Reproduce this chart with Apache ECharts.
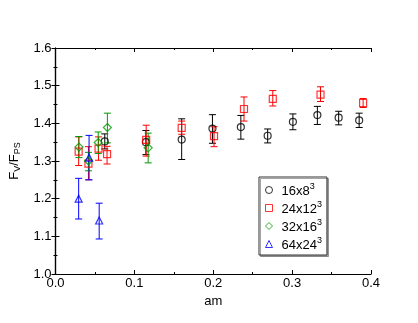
<!DOCTYPE html>
<html>
<head>
<meta charset="utf-8">
<script src="https://cdn.jsdelivr.net/npm/echarts@6/dist/echarts.min.js"></script>
<style>
    html, body { margin: 0; padding: 0; background: #ffffff; }
    #chart { width: 418px; height: 323px; }
</style>
</head>
<body>
<div id="chart"></div>
<script>
    // 16x8^3
    const x16 = [0.0625, 0.1146, 0.160, 0.199, 0.235, 0.269, 0.301, 0.332, 0.359, 0.385]
    const y16 = [1.352, 1.350, 1.357, 1.386, 1.390, 1.367, 1.404, 1.422, 1.415, 1.408]
    const lo16 = [1.332, 1.317, 1.304, 1.347, 1.358, 1.348, 1.383, 1.397, 1.396, 1.389]
    const hi16 = [1.372, 1.381, 1.412, 1.423, 1.421, 1.385, 1.425, 1.445, 1.432, 1.427]
    // 24x12^3
    const x24 = [0.0294, 0.0418, 0.0546, 0.0654, 0.115, 0.160, 0.201, 0.239, 0.2755, 0.336, 0.390]
    const y24 = [1.325, 1.293, 1.333, 1.318, 1.356, 1.388, 1.366, 1.438, 1.465, 1.476, 1.454]
    const lo24 = [1.288, 1.250, 1.302, 1.292, 1.313, 1.371, 1.338, 1.406, 1.446, 1.458, 1.442]
    const hi24 = [1.364, 1.338, 1.364, 1.339, 1.395, 1.406, 1.391, 1.470, 1.487, 1.497, 1.466]
    // 32x16^3
    const x32 = [0.0298, 0.0418, 0.0542, 0.0658, 0.1175]
    const y32 = [1.337, 1.300, 1.349, 1.389, 1.335]
    const lo32 = [1.309, 1.274, 1.320, 1.348, 1.295]
    const hi32 = [1.365, 1.323, 1.377, 1.427, 1.374]
    // 64x24^3
    const x64 = [0.0294, 0.0426, 0.0554]
    const y64 = [1.200, 1.309, 1.142]
    const lo64 = [1.146, 1.250, 1.093]
    const hi64 = [1.254, 1.368, 1.188]

    const xTicks = ['0.0', '0.1', '0.2', '0.3', '0.4']
    const yTicks = ['1.0', '1.1', '1.2', '1.3', '1.4', '1.5', '1.6']

    const groups = [
        {name: '16x8', x: x16, y: y16, lo: lo16, hi: hi16, color: '#000000', symbol: 'circle'},
        {name: '24x12', x: x24, y: y24, lo: lo24, hi: hi24, color: '#ff0000', symbol: 'rect'},
        {name: '32x16', x: x32, y: y32, lo: lo32, hi: hi32, color: '#009a00', symbol: 'diamond'},
        {name: '64x24', x: x64, y: y64, lo: lo64, hi: hi64, color: '#0000ff', symbol: 'triangle'}
    ]

    const font = 'Liberation Sans, Arial, Helvetica, sans-serif'

    function errorBar(color) {
        return function (params, api) {
            const top = api.coord([api.value(0), api.value(2)])
            const bot = api.coord([api.value(0), api.value(1)])
            const w = 3.5
            const style = {stroke: color, lineWidth: 1}
            return {
                type: 'group',
                children: [
                    {type: 'line', shape: {x1: top[0], y1: top[1], x2: bot[0], y2: bot[1]}, style: style},
                    {type: 'line', shape: {x1: top[0] - w, y1: top[1], x2: top[0] + w, y2: top[1]}, style: style},
                    {type: 'line', shape: {x1: bot[0] - w, y1: bot[1], x2: bot[0] + w, y2: bot[1]}, style: style}
                ]
            }
        }
    }

    const series = []
    groups.forEach(g => {
        series.push({
            name: g.name + ' err',
            type: 'custom',
            renderItem: errorBar(g.color),
            data: g.x.map((x, i) => [x, g.lo[i], g.hi[i]]),
            encode: {x: 0, y: [1, 2]},
            silent: true,
            z: 2
        })
        series.push({
            name: g.name,
            type: 'scatter',
            symbol: g.symbol,
            symbolSize: g.symbol === 'diamond' ? 8 : 7,
            itemStyle: {color: 'rgba(0,0,0,0)', borderColor: g.color, borderWidth: 1.2},
            data: g.x.map((x, i) => [x, g.y[i]]),
            z: 3
        })
    })

    const axisCommon = {
        axisLine: {lineStyle: {color: '#000', width: 1.2}},
        axisTick: {inside: true, length: 4, lineStyle: {color: '#000'}},
        minorTick: {show: true, splitNumber: 2, length: 2, lineStyle: {color: '#000'}},
        splitLine: {show: false}
    }

    const chart = echarts.init(document.getElementById('chart'))
    chart.setOption({
        animation: false,
        backgroundColor: '#ffffff',
        grid: {left: 49, right: 47, top: 48, bottom: 49},
        legend: {
            data: groups.map(g => g.name),
            orient: 'vertical',
            left: 259,
            top: 177,
            padding: [5, 5, 3, 6],
            itemGap: 2,
            itemWidth: 7,
            itemHeight: 7,
            itemStyle: {borderWidth: 1},
            borderColor: '#333',
            borderWidth: 1,
            backgroundColor: '#fff',
            shadowColor: 'rgba(0,0,0,0.35)',
            shadowOffsetX: 1.5,
            shadowOffsetY: 1.5,
            shadowBlur: 0,
            formatter: name => '{b|' + name + '}{s|3}',
            textStyle: {
                fontFamily: font,
                rich: {
                    b: {fontSize: 13, fontFamily: font, color: '#000', lineHeight: 15, padding: [3, 0, 0, 4]},
                    s: {fontSize: 9, fontFamily: font, color: '#000', verticalAlign: 'top', lineHeight: 10}
                }
            }
        },
        xAxis: [
            Object.assign({
                type: 'value', min: 0, max: 0.4, interval: 0.1,
                name: 'am', nameLocation: 'middle', nameGap: 10,
                nameTextStyle: {fontSize: 13, fontFamily: font, color: '#000'},
                axisLabel: {fontSize: 13, fontFamily: font, color: '#000', margin: 3,
                    formatter: v => xTicks[Math.round(v * 10)]}
            }, axisCommon),
            Object.assign({
                type: 'value', min: 0, max: 0.4, interval: 0.1, position: 'top',
                axisLabel: {show: false}
            }, axisCommon)
        ],
        yAxis: [
            Object.assign({
                type: 'value', min: 1.0, max: 1.6, interval: 0.1,
                name: '{a|F}{sb|V}{a|/F}{sb|PS}', nameLocation: 'middle', nameGap: 30, nameRotate: 90,
                nameTextStyle: {
                    rich: {
                        a: {fontSize: 13, fontFamily: font, color: '#000', lineHeight: 16},
                        sb: {fontSize: 9, fontFamily: font, color: '#000', verticalAlign: 'bottom', lineHeight: 8}
                    }
                },
                axisLabel: {fontSize: 13, fontFamily: font, color: '#000', margin: 4,
                    formatter: v => yTicks[Math.round((v - 1) * 10)]}
            }, axisCommon),
            Object.assign({
                type: 'value', min: 1.0, max: 1.6, interval: 0.1, position: 'right',
                axisLabel: {show: false}
            }, axisCommon)
        ],
        series: series
    })
</script>
</body>
</html>
